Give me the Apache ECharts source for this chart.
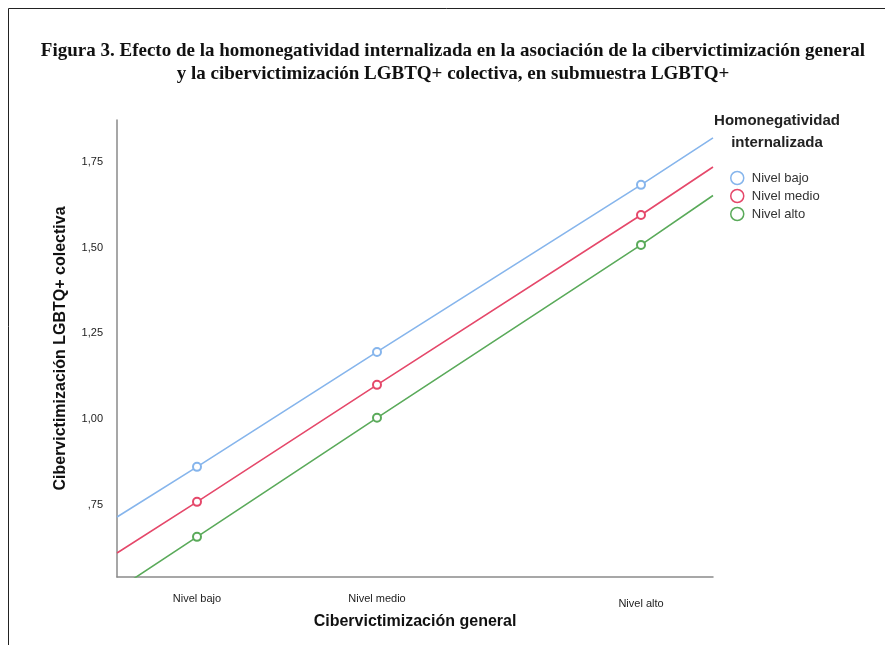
<!DOCTYPE html>
<html>
<head>
<meta charset="utf-8">
<script src="https://cdn.jsdelivr.net/npm/echarts@6/dist/echarts.min.js"></script>
<style>html,body{margin:0;padding:0;background:#fff}#c{width:885px;height:645px}</style>
</head>
<body>
<div id="c"></div>
<script>
// ---- data ----
var xCategories = ['Nivel bajo', 'Nivel medio', 'Nivel alto'];
var xLevels = [0.20, 0.65, 1.31];          // x positions of the three levels
var xRange = [0, 1.49];                    // extent of the fitted lines
var seriesNames = ['Nivel bajo', 'Nivel medio', 'Nivel alto'];
var bajoPoints = [0.861, 1.196, 1.683];
var bajoEnds = [0.715, 1.820];
var medioPoints = [0.759, 1.100, 1.595];
var medioEnds = [0.610, 1.735];
var altoPoints = [0.657, 1.004, 1.508];
var altoEnds = [0.503, 1.652];
var yTicks = [0.75, 1.00, 1.25, 1.50, 1.75];
var yRange = [0.540, 1.872];

var colors = ['#86b5ec', '#e5486a', '#5aaa5a'];

function buildData(points, ends) {
  var d = [{ value: [xRange[0], ends[0]], symbol: 'none' }];
  for (var i = 0; i < xLevels.length; i++) d.push({ value: [xLevels[i], points[i]] });
  d.push({ value: [xRange[1], ends[1]], symbol: 'none' });
  return d;
}
var allPoints = [bajoPoints, medioPoints, altoPoints];
var allEnds = [bajoEnds, medioEnds, altoEnds];

var series = seriesNames.map(function (n, i) {
  return {
    name: n,
    type: 'line',
    data: buildData(allPoints[i], allEnds[i]),
    symbol: 'emptyCircle',
    symbolSize: 8,
    showAllSymbol: true,
    clip: true,
    lineStyle: { color: colors[i], width: 1.6 },
    itemStyle: { color: colors[i], borderWidth: 1.5 },
    emphasis: { disabled: true },
    z: 3 + i
  };
});

function fmtY(v) {
  var s = v.toFixed(2).replace('.', ',');
  if (s.indexOf('0,') === 0) s = s.substring(1);
  return s;
}

var chart = echarts.init(document.getElementById('c'), null, { renderer: 'canvas' });
chart.setOption({
  animation: false,
  backgroundColor: '#fff',
  title: {
    text: 'Figura 3. Efecto de la homonegatividad internalizada en la asociación de la cibervictimización general\ny la cibervictimización LGBTQ+ colectiva, en submuestra LGBTQ+',
    left: 448,
    textAlign: 'center',
    top: 35,
    textStyle: { fontFamily: 'Liberation Serif', fontSize: 19, fontWeight: 'bold', color: '#111', lineHeight: 23 }
  },
  grid: { left: 117, right: 172, top: 120, bottom: 68, containLabel: false },
  xAxis: {
    type: 'value',
    min: xRange[0],
    max: xRange[1],
    name: 'Cibervictimización general',
    nameLocation: 'middle',
    nameGap: 34,
    nameTextStyle: { fontFamily: 'Liberation Sans', fontSize: 16, fontWeight: 'bold', color: '#111' },
    axisLine: { show: true, lineStyle: { color: '#8a8a8a', width: 1.5 } },
    axisTick: { show: false },
    splitLine: { show: false },
    axisLabel: {
      customValues: xLevels,
      margin: 16,
      fontFamily: 'Liberation Sans',
      fontSize: 11,
      color: '#222',
      formatter: function (v) {
        for (var i = 0; i < xLevels.length; i++) {
          if (Math.abs(v - xLevels[i]) < 1e-6) {
            return i === 2 ? '{a|' + xCategories[i] + '}' : xCategories[i];
          }
        }
        return '';
      },
      rich: { a: { fontFamily: 'Liberation Sans', fontSize: 11, color: '#222', padding: [5, 0, 0, 0] } }
    }
  },
  yAxis: {
    type: 'value',
    min: yRange[0],
    max: yRange[1],
    name: 'Cibervictimización LGBTQ+ colectiva',
    nameLocation: 'middle',
    nameGap: 48,
    nameTextStyle: { fontFamily: 'Liberation Sans', fontSize: 16, fontWeight: 'bold', color: '#111' },
    axisLine: { show: true, lineStyle: { color: '#8a8a8a', width: 1.5 } },
    axisTick: { show: false },
    splitLine: { show: false },
    axisLabel: {
      customValues: yTicks,
      margin: 14,
      fontFamily: 'Liberation Sans',
      fontSize: 11,
      color: '#222',
      formatter: fmtY
    }
  },
  legend: {
    left: 725,
    top: 165,
    orient: 'vertical',
    itemWidth: 13,
    itemHeight: 13,
    itemGap: 2,
    textStyle: { fontFamily: 'Liberation Sans', fontSize: 13, color: '#333', lineHeight: 16, padding: [0, 0, 0, 3] },
    selectedMode: false,
    data: seriesNames.map(function (n, i) {
      return { name: n, icon: 'circle', itemStyle: { color: '#fff', borderColor: colors[i], borderWidth: 1.5 } };
    })
  },
  graphic: [
    { type: 'text', x: 777, y: 110, style: { text: 'Homonegatividad\ninternalizada', align: 'center', fontFamily: 'Liberation Sans', fontSize: 15, fontWeight: 'bold', fill: '#222', lineHeight: 22 }, z: 10 },
    { type: 'line', shape: { x1: 8.5, y1: 8.5, x2: 885, y2: 8.5 }, style: { stroke: '#222', lineWidth: 1 } },
    { type: 'line', shape: { x1: 8.5, y1: 8.5, x2: 8.5, y2: 645 }, style: { stroke: '#222', lineWidth: 1 } }
  ],
  series: series
});
</script>
</body>
</html>
